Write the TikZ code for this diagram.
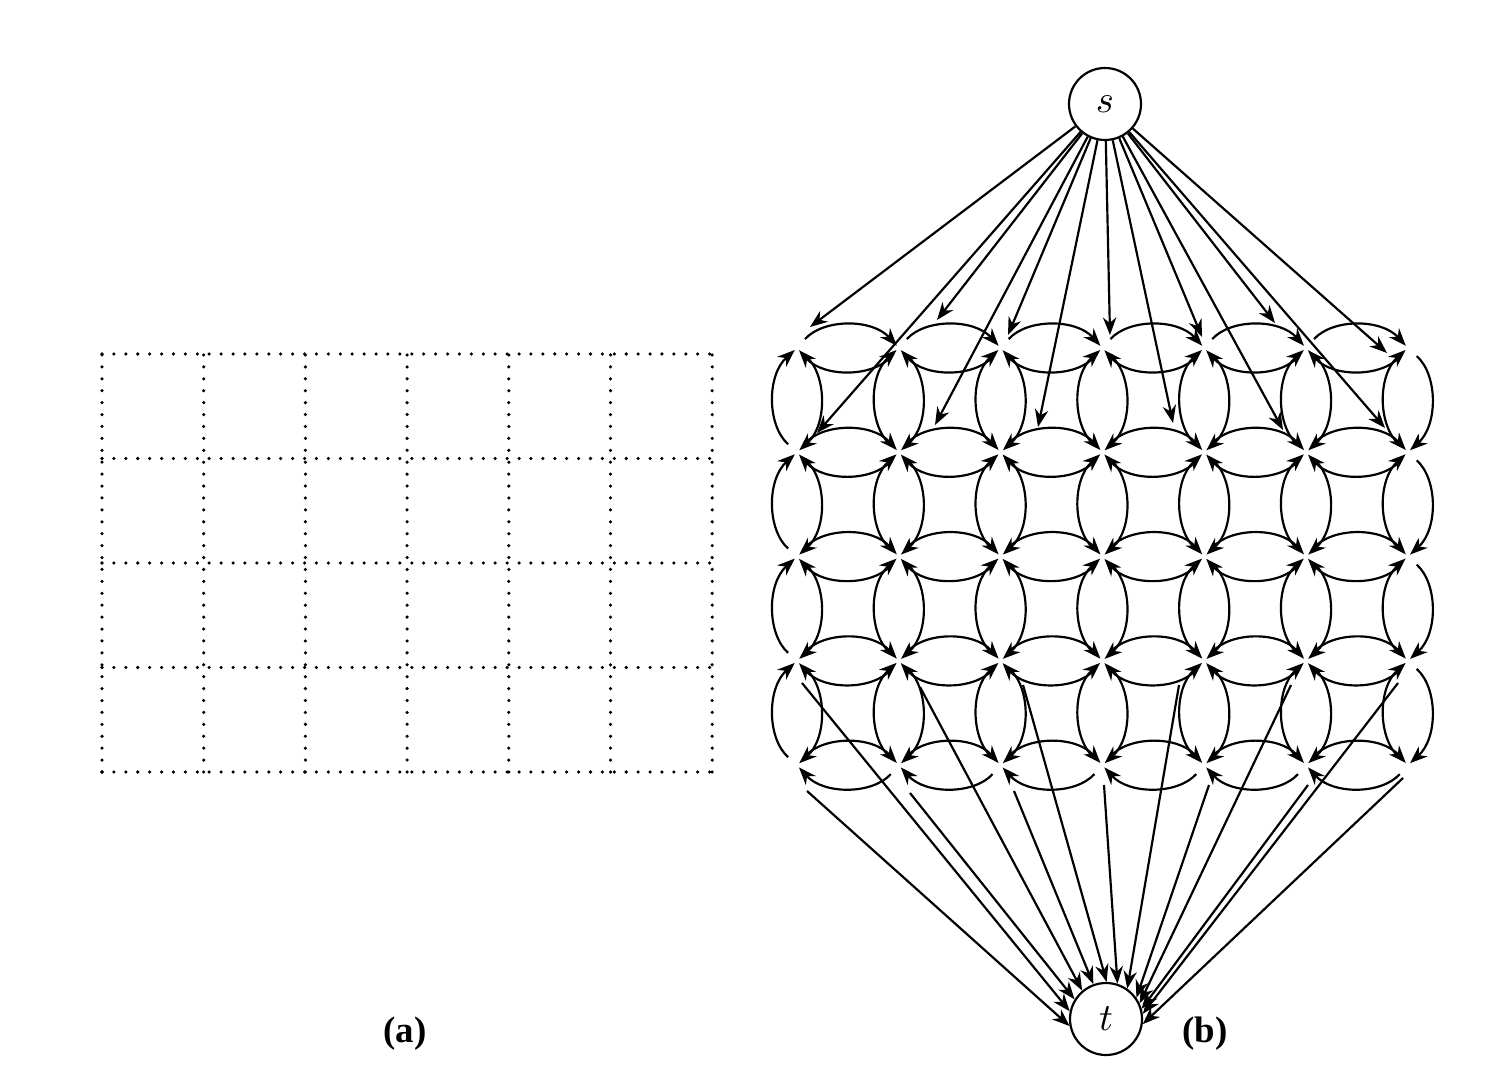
\documentclass[tikz,border=0pt]{standalone}
\usepackage{fontspec}
\setmainfont{Liberation Serif}
\usetikzlibrary{arrows.meta}
\begin{document}
\begin{tikzpicture}[>={Stealth[length=5pt,width=3.8pt,inset=1.6pt]}, line width=0.62pt,
	terminal/.style={circle, draw, minimum size=0.72cm, inner sep=0pt, font=\fontsize{11}{13}\selectfont},
	gridline/.style={line width=1pt, line cap=round, dash pattern=on 0pt off 3.39pt},
	lens/.style={->, bend left=48, shorten <=0.12cm, shorten >=0.03cm},
	caption/.style={font=\bfseries\fontsize{10.5}{12}\selectfont}]

	\useasboundingbox (0,0) rectangle (15.1,10.82);

	\foreach \i in {0,...,6} \draw[gridline] ({1.02+1.017*\i},3.10) -- ({1.02+1.017*\i},7.28);
	\foreach \j in {0,...,4} \draw[gridline] (1.02,{3.10+1.045*\j}) -- (7.12,{3.10+1.045*\j});

	\node[terminal] (s) at (11.05,9.78) {$s$};
	\node[terminal] (t) at (11.06,0.63) {$t$};
	\foreach \r in {1,...,5} \foreach \c in {1,...,7}
		\coordinate (v-\r-\c) at ({7.97+1.018*(\c-1)},{7.34-1.043*(\r-1)});

	\foreach \r in {1,...,5} \foreach \c in {1,...,6} {
		\pgfmathtruncatemacro\nc{\c+1}
		\path (v-\r-\c) edge[lens] (v-\r-\nc) (v-\r-\nc) edge[lens] (v-\r-\c);
	}
	\foreach \r in {1,...,4} \foreach \c in {1,...,7} {
		\pgfmathtruncatemacro\nr{\r+1}
		\path (v-\r-\c) edge[lens] (v-\nr-\c) (v-\nr-\c) edge[lens] (v-\r-\c);
	}

	\foreach \x/\y [count=\k] in {8.10/7.55, 9.37/7.62, 10.08/7.47, 11.10/7.47, 12.02/7.45, 12.75/7.59, 13.87/7.29,
		8.17/6.49, 9.35/6.57, 10.38/6.55, 11.73/6.59, 12.83/6.52, 13.85/6.54} {
		\coordinate (in\k) at (\x,\y);
		\path[->] (s) edge (in\k);
	}

	\foreach \x/\y/\a [count=\k] in {8.07/2.91/191, 8.02/3.99/168, 9.10/2.89/148, 9.20/3.95/130, 10.14/2.91/110,
		10.23/3.97/89, 11.04/2.97/72, 11.79/3.97/55, 12.09/2.97/35, 12.91/3.97/25, 13.08/2.97/16,
		13.98/3.99/8, 14.03/3.04/352} {
		\coordinate (out\k) at (\x,\y);
		\path[->] (out\k) edge (t.\a);
	}

	\node[caption] (capa) at (4.05,0.48) {(a)};
	\node[caption] (capb) at (12.05,0.48) {(b)};

\end{tikzpicture}
\end{document}
